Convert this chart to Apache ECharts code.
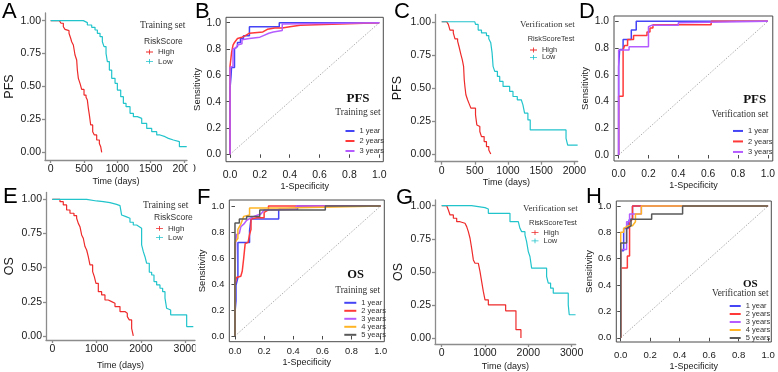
<!DOCTYPE html>
<html>
<head>
<meta charset="utf-8">
<style>
  html, body { margin: 0; padding: 0; background: #fff; }
  #chart { width: 778px; height: 372px; }
</style>
<script src="https://cdn.jsdelivr.net/npm/echarts@6/dist/echarts.min.js"></script>
</head>
<body>
<div id="chart"></div>
<script>
// tick labels
const survTicks = [0, 0.25, 0.5, 0.75, 1];
const pfsDayTicks = [0, 500, 1000, 1500, 2000];
const osDayTicks = [0, 1000, 2000, 3000];
const rocTicks = [0, 0.2, 0.4, 0.6, 0.8, 1];

const groupNames = ['High', 'Low'];
const rocNames = ['1 year', '2 years', '3 years', '4 years', '5 years'];

// Kaplan-Meier curves: [days, survival]
const pfsTrainHigh = [[0,1],[130,1],[155,0.98],[190,0.954],[215,0.934],[240,0.924],[275,0.904],[300,0.866],[315,0.84],[340,0.815],[365,0.739],[390,0.701],[400,0.625],[415,0.562],[440,0.524],[465,0.478],[500,0.435],[530,0.418],[550,0.397],[565,0.334],[580,0.284],[600,0.208],[630,0.157],[655,0.132],[690,0.094],[730,0.068],[750,0.043],[765,0]];
const pfsTrainLow = [[0,1],[440,1],[490,0.985],[550,0.967],[615,0.949],[665,0.929],[700,0.904],[740,0.878],[775,0.84],[800,0.803],[830,0.752],[850,0.689],[880,0.625],[915,0.562],[965,0.524],[1000,0.473],[1050,0.423],[1090,0.372],[1130,0.347],[1190,0.296],[1240,0.271],[1300,0.258],[1365,0.22],[1440,0.182],[1515,0.157],[1590,0.132],[1640,0.119],[1715,0.106],[1765,0.094],[1840,0.081],[1930,0.043],[2040,0.043]];
const pfsTestHigh = [[0,1],[75,1],[100,0.98],[125,0.937],[175,0.916],[200,0.871],[240,0.853],[260,0.815],[290,0.752],[310,0.714],[330,0.663],[340,0.562],[350,0.511],[365,0.448],[390,0.41],[410,0.385],[440,0.347],[510,0.296],[530,0.22],[550,0.208],[575,0.17],[600,0.132],[640,0.094],[675,0.056],[710,0.03],[740,0]];
const pfsTestLow = [[0,1],[500,1],[510,0.98],[550,0.937],[600,0.916],[675,0.896],[710,0.871],[740,0.841],[760,0.765],[775,0.663],[800,0.625],[840,0.587],[875,0.549],[925,0.511],[1025,0.473],[1075,0.435],[1140,0.41],[1200,0.397],[1225,0.372],[1250,0.309],[1300,0.258],[1335,0.182],[1875,0.119],[1900,0.068],[2050,0.068]];
const osTrainHigh = [[0,1],[98,1],[173,0.983],[248,0.959],[323,0.922],[399,0.898],[489,0.88],[549,0.861],[587,0.824],[624,0.8],[662,0.739],[699,0.715],[737,0.654],[775,0.629],[812,0.58],[850,0.52],[910,0.471],[948,0.434],[985,0.385],[1038,0.324],[1113,0.3],[1188,0.263],[1263,0.251],[1339,0.239],[1414,0.215],[1527,0.178],[1639,0.166],[1692,0.141],[1737,0.117],[1790,0.056],[1827,0]];
const osTrainLow = [[0,1],[624,1],[775,0.988],[1000,0.983],[1151,0.976],[1301,0.963],[1451,0.954],[1527,0.946],[1564,0.885],[1602,0.873],[1662,0.861],[1752,0.832],[1827,0.812],[1903,0.8],[1963,0.788],[2015,0.666],[2053,0.617],[2091,0.58],[2128,0.532],[2188,0.466],[2241,0.446],[2294,0.398],[2354,0.373],[2429,0.349],[2489,0.324],[2542,0.276],[2579,0.202],[2617,0.19],[2670,0.154],[3031,0.068],[3181,0.068]];
const osTestHigh = [[0,1],[115,1],[154,0.967],[192,0.93],[269,0.905],[346,0.879],[423,0.867],[538,0.859],[577,0.842],[615,0.804],[654,0.754],[692,0.678],[731,0.59],[769,0.565],[846,0.558],[884,0.503],[923,0.427],[961,0.352],[1000,0.289],[1077,0.251],[1477,0.206],[1715,0.063],[1830,0]];
const osTestLow = [[0,1],[690,1],[707,0.985],[1000,0.975],[1077,0.942],[1577,0.879],[1769,0.867],[1807,0.829],[1846,0.804],[1923,0.779],[1961,0.729],[2000,0.653],[2038,0.616],[2077,0.528],[2423,0.465],[2461,0.415],[2515,0.377],[2577,0.339],[2923,0.251],[2946,0.176],[3092,0.176]];

// ROC curves: [1-specificity, sensitivity]
const rocPfsTrain1 = [[0,0],[0,0.5],[0.007,0.6],[0.01,0.66],[0.03,0.66],[0.03,0.8],[0.05,0.82],[0.05,0.85],[0.07,0.85],[0.07,0.88],[0.09,0.88],[0.09,0.9],[0.13,0.9],[0.13,0.97],[0.33,0.97],[0.33,1],[1,1]];
const rocPfsTrain2 = [[0,0],[0,0.67],[0.01,0.67],[0.01,0.77],[0.02,0.77],[0.02,0.83],[0.03,0.85],[0.05,0.88],[0.08,0.89],[0.1,0.9],[0.13,0.92],[0.22,0.93],[0.25,0.95],[0.3,0.96],[0.35,0.96],[0.4,0.97],[0.47,0.98],[0.47,0.99],[1,1]];
const rocPfsTrain3 = [[0,0],[0,0.66],[0.01,0.67],[0.02,0.67],[0.02,0.8],[0.04,0.81],[0.05,0.83],[0.08,0.84],[0.08,0.87],[0.13,0.88],[0.2,0.89],[0.22,0.9],[0.26,0.92],[0.29,0.93],[0.35,0.94],[0.35,0.99],[1,1]];
const rocPfsTest1 = [[0,0],[0,0.66],[0.007,0.66],[0.007,0.79],[0.03,0.79],[0.03,0.865],[0.085,0.865],[0.085,0.935],[0.118,0.935],[0.118,1],[1,1]];
const rocPfsTest2 = [[0,0],[0,0.44],[0.03,0.44],[0.03,0.785],[0.04,0.785],[0.04,0.82],[0.06,0.82],[0.06,0.865],[0.1,0.865],[0.1,0.895],[0.19,0.895],[0.19,0.92],[0.21,0.92],[0.21,0.95],[0.23,0.95],[0.23,0.975],[0.62,0.975],[0.62,1],[1,1]];
const rocPfsTest3 = [[0,0],[0,0.785],[0.07,0.785],[0.07,0.81],[0.2,0.81],[0.2,0.96],[0.22,0.97],[0.4,0.97],[0.4,0.99],[1,1]];
const rocOsTrain1 = [[0,0],[0,0.18],[0.007,0.27],[0.007,0.39],[0.02,0.45],[0.02,0.72],[0.1,0.72],[0.1,0.81],[0.11,0.9],[0.3,0.9],[0.3,0.975],[0.43,0.975],[0.43,1],[1,1]];
const rocOsTrain2 = [[0,0],[0,0.39],[0.01,0.45],[0.04,0.46],[0.05,0.5],[0.06,0.6],[0.07,0.71],[0.09,0.72],[0.1,0.78],[0.11,0.82],[0.11,0.9],[0.15,0.91],[0.2,0.91],[0.2,0.95],[0.23,0.97],[0.23,1],[1,1]];
const rocOsTrain3 = [[0,0],[0,0.45],[0.005,0.72],[0.01,0.78],[0.03,0.79],[0.04,0.84],[0.06,0.86],[0.08,0.89],[0.13,0.92],[0.18,0.94],[0.2,0.97],[0.42,0.975],[0.42,1],[1,1]];
const rocOsTrain4 = [[0,0],[0,0.72],[0.02,0.75],[0.02,0.82],[0.04,0.86],[0.06,0.92],[0.1,0.93],[0.1,0.985],[0.35,0.985],[0.35,1],[1,1]];
const rocOsTrain5 = [[0,0],[0,0.87],[0.03,0.87],[0.03,0.9],[0.08,0.9],[0.08,0.92],[0.17,0.92],[0.17,0.97],[0.62,0.97],[0.62,1],[1,1]];
const rocOsTest1 = [[0,0],[0,0.66],[0.02,0.66],[0.02,0.83],[0.05,0.83],[0.05,0.87],[0.06,0.9],[0.08,0.9],[0.08,1],[1,1]];
const rocOsTest2 = [[0,0],[0,0.53],[0.045,0.53],[0.045,0.62],[0.06,0.62],[0.06,0.88],[0.08,0.9],[0.08,1],[1,1]];
const rocOsTest3 = [[0,0],[0,0.67],[0.04,0.67],[0.04,0.88],[0.06,0.88],[0.06,0.94],[0.14,0.94],[0.14,1],[1,1]];
const rocOsTest4 = [[0,0],[0,0.8],[0.02,0.8],[0.02,0.83],[0.05,0.85],[0.08,0.85],[0.1,0.88],[0.1,0.94],[0.14,0.94],[0.14,1],[1,1]];
const rocOsTest5 = [[0,0],[0,0.72],[0.04,0.72],[0.04,0.83],[0.07,0.85],[0.07,0.9],[0.21,0.9],[0.21,0.94],[0.42,0.94],[0.42,1],[1,1]];
const diagonal = [[0,0],[1,1]];

const kmColors = ['#ee2a2a', '#22c4cc'];
const rocColors = ['#4545f5', '#ff3838', '#b45cff', '#ffb425', '#595959'];
const SANS = '"Liberation Sans", Arial, sans-serif';
const SERIF = '"Liberation Serif", "Times New Roman", serif';

const kmPanels = [
  { curves: [pfsTrainHigh, pfsTrainLow], box: [45, 13, 142, 147], x: [-85, 2044], y: [-0.058, 1.058], ticks: pfsDayTicks, yName: 'PFS', xGap: 17, yGap: 28.5 },
  { curves: [pfsTestHigh, pfsTestLow], box: [435, 14.5, 142.7, 147.2], x: [-101, 2051], y: [-0.058, 1.055], ticks: pfsDayTicks, yName: 'PFS', xGap: 9, yGap: 30.5 },
  { curves: [osTrainHigh, osTrainLow], box: [46, 192.5, 149, 147.5], x: [-142, 3219], y: [-0.03, 1.05], ticks: osDayTicks, yName: 'OS', xGap: 21.5, yGap: 29.5 },
  { curves: [osTestHigh, osTestLow], box: [435, 200, 140.7, 144.3], x: [-155, 3095], y: [-0.045, 1.043], ticks: osDayTicks, yName: 'OS', xGap: 18, yGap: 29.5 }
];

const rocPanels = [
  { curves: [rocPfsTrain1, rocPfsTrain2, rocPfsTrain3], box: [226, 17.3, 157.3, 144.4], x: [-0.027, 1.027], y: [-0.056, 1.041], font: 10.5, labelGap: 8, xGap: 19, yGap: 20 },
  { curves: [rocPfsTest1, rocPfsTest2, rocPfsTest3], box: [614, 16, 159, 145], x: [-0.031, 1.033], y: [-0.045, 1.04], font: 10.3, labelGap: 8.5, xGap: 20, yGap: 22.5 },
  { curves: [rocOsTrain1, rocOsTrain2, rocOsTrain3, rocOsTrain4, rocOsTrain5], box: [229.3, 200, 155, 141.7], x: [-0.039, 1.025], y: [-0.044, 1.046], font: 9.3, labelGap: 5, xGap: 16.5, yGap: 20.5 },
  { curves: [rocOsTest1, rocOsTest2, rocOsTest3, rocOsTest4, rocOsTest5], box: [616.3, 201, 155, 142.3], x: [-0.03, 1.022], y: [-0.032, 1.038], font: 9.6, labelGap: 8, xGap: 20, yGap: 22 }
];

const grid = [], xAxis = [], yAxis = [], series = [];

kmPanels.forEach(p => {
  const i = grid.length;
  const axisGrey = { color: '#8c8c8c', width: 1.3 };
  grid.push({ left: p.box[0], top: p.box[1], width: p.box[2], height: p.box[3] });
  xAxis.push({
    gridIndex: i, type: 'value', min: p.x[0], max: p.x[1],
    axisLine: { show: true, onZero: false, lineStyle: axisGrey },
    axisTick: { show: true, length: 3, customValues: p.ticks, lineStyle: axisGrey },
    axisLabel: { customValues: p.ticks, formatter: v => String(v), fontSize: 10.5, fontFamily: SANS, color: '#1a1a1a', margin: 4 },
    splitLine: { show: false },
    name: 'Time (days)', nameLocation: 'middle', nameGap: p.xGap,
    nameTextStyle: { fontSize: 9, fontFamily: SANS, color: '#1a1a1a' }
  });
  yAxis.push({
    gridIndex: i, type: 'value', min: p.y[0], max: p.y[1],
    axisLine: { show: true, onZero: false, lineStyle: axisGrey },
    axisTick: { show: true, length: 3, customValues: survTicks, lineStyle: axisGrey },
    axisLabel: { customValues: survTicks, formatter: v => v.toFixed(2), fontSize: 10.5, fontFamily: SANS, color: '#1a1a1a', margin: 4 },
    splitLine: { show: false },
    name: p.yName, nameLocation: 'middle', nameGap: p.yGap,
    nameTextStyle: { fontSize: 12.5, fontFamily: SANS, color: '#1a1a1a' }
  });
  p.curves.forEach((c, k) => {
    series.push({
      type: 'line', name: groupNames[k], xAxisIndex: i, yAxisIndex: i, data: c,
      step: 'end', symbol: 'none', silent: true,
      lineStyle: { color: kmColors[k], width: 1.2 }, itemStyle: { color: kmColors[k] }
    });
  });
});

rocPanels.forEach(p => {
  const i = grid.length;
  const dark = { color: '#4a4a4a', width: 1 };
  grid.push({ left: p.box[0], top: p.box[1], width: p.box[2], height: p.box[3], show: true, borderColor: '#4a4a4a', borderWidth: 1, backgroundColor: 'transparent' });
  xAxis.push({
    gridIndex: i, type: 'value', min: p.x[0], max: p.x[1],
    axisLine: { show: false },
    axisTick: { show: true, length: 3.5, customValues: rocTicks, lineStyle: dark },
    axisLabel: { customValues: rocTicks, formatter: v => v.toFixed(1), fontSize: p.font, fontFamily: SANS, color: '#1a1a1a', margin: p.labelGap },
    splitLine: { show: false },
    name: '1-Specificity', nameLocation: 'middle', nameGap: p.xGap,
    nameTextStyle: { fontSize: 9, fontFamily: SANS, color: '#1a1a1a' }
  });
  yAxis.push({
    gridIndex: i, type: 'value', min: p.y[0], max: p.y[1],
    axisLine: { show: false },
    axisTick: { show: true, length: 3.5, customValues: rocTicks, lineStyle: dark },
    axisLabel: { customValues: rocTicks, formatter: v => v.toFixed(1), fontSize: p.font, fontFamily: SANS, color: '#1a1a1a', margin: 5 },
    splitLine: { show: false },
    name: 'Sensitivity', nameLocation: 'middle', nameGap: p.yGap,
    nameTextStyle: { fontSize: 9.5, fontFamily: SANS, color: '#1a1a1a' }
  });
  series.push({
    type: 'line', name: 'ref', xAxisIndex: i, yAxisIndex: i, data: diagonal,
    symbol: 'none', silent: true, lineStyle: { color: '#9a9a9a', width: 0.8, type: [1.5, 1.5] }
  });
  p.curves.forEach((c, k) => {
    series.push({
      type: 'line', name: rocNames[k], xAxisIndex: i, yAxisIndex: i, data: c,
      symbol: 'none', silent: true,
      lineStyle: { color: rocColors[k], width: 1.5 }, itemStyle: { color: rocColors[k] }
    });
  });
});

const kmIcon = 'path://M0,3.4h10v1.2h-10z M4.4,0.6h1.2v6.8h-1.2z';
function kmLegend(left, top, pitch, size) {
  return {
    orient: 'vertical', left: left, top: top, padding: 0, itemGap: 0,
    itemWidth: 7, itemHeight: 6, selectedMode: false,
    data: groupNames.map(n => ({ name: n, icon: kmIcon })),
    textStyle: { fontSize: size, fontFamily: SANS, color: '#333', lineHeight: pitch }
  };
}
function rocLegend(left, top, pitch, count, width) {
  return {
    orient: 'vertical', left: left, top: top, padding: 0, itemGap: 0,
    itemWidth: width, itemHeight: 2, icon: 'rect', selectedMode: false,
    data: rocNames.slice(0, count),
    textStyle: { fontSize: 7.5, fontFamily: SANS, color: '#333', lineHeight: pitch }
  };
}

const legend = [
  kmLegend(146, 47.3, 9.4, 8),
  kmLegend(530, 46.3, 7.4, 7.3),
  kmLegend(156, 223.6, 9.4, 8),
  kmLegend(531.5, 228.5, 8.3, 7.5),
  rocLegend(345.5, 126, 10, 3, 9),
  rocLegend(733, 125.7, 10.5, 3, 10),
  rocLegend(344.3, 298.8, 7.8, 5, 12),
  rocLegend(729.7, 302, 7.9, 5, 11)
];

function txt(x, y, text, font, align, fill) {
  return { type: 'text', x: x, y: y, z: 10, silent: true,
    style: { text: text, font: font, fill: fill || '#333', align: align || 'left', verticalAlign: 'middle' } };
}
const letterFont = '22px ' + SANS;
const graphic = [
  txt(2, 12, 'A', letterFont, 'left', '#000'),
  txt(195, 12, 'B', letterFont, 'left', '#000'),
  txt(394, 12, 'C', letterFont, 'left', '#000'),
  txt(579, 12, 'D', letterFont, 'left', '#000'),
  txt(3, 197, 'E', letterFont, 'left', '#000'),
  txt(197, 198, 'F', letterFont, 'left', '#000'),
  txt(396, 198, 'G', letterFont, 'left', '#000'),
  txt(586, 197, 'H', letterFont, 'left', '#000'),
  // survival legends
  txt(140, 25, 'Training set', '9.5px ' + SERIF),
  txt(144, 42, 'RiskScore', '8.5px ' + SANS),
  txt(520, 24.3, 'Verification set', '9px ' + SERIF),
  txt(527.7, 39.3, 'RiskScoreTest', '7.3px ' + SANS),
  txt(143, 205.7, 'Training set', '9.5px ' + SERIF),
  txt(154, 217.3, 'RiskScore', '8.5px ' + SANS),
  txt(523, 208.3, 'Verification set', '9px ' + SERIF),
  txt(529, 222.7, 'RiskScoreTest', '7.5px ' + SANS),
  // ROC legends
  txt(358, 99, 'PFS', 'bold 13px ' + SERIF, 'center', '#111'),
  txt(358, 112, 'Training set', '9.5px ' + SERIF, 'center'),
  txt(754.7, 100, 'PFS', 'bold 13px ' + SERIF, 'center', '#111'),
  txt(740, 115, 'Verification set', '9.3px ' + SERIF, 'center'),
  txt(355.7, 275, 'OS', 'bold 12.5px ' + SERIF, 'center', '#111'),
  txt(357.7, 291, 'Training set', '9.4px ' + SERIF, 'center'),
  txt(750.3, 284, 'OS', 'bold 11px ' + SERIF, 'center', '#111'),
  txt(740.3, 294, 'Verification set', '9.3px ' + SERIF, 'center'),
  // the source panels were cropped through the last tick label
  { type: 'rect', z: 20, silent: true, shape: { x: 187.5, y: 161, width: 6, height: 16 }, style: { fill: '#fff' } },
  { type: 'rect', z: 20, silent: true, shape: { x: 195.5, y: 341, width: 4, height: 16 }, style: { fill: '#fff' } }
];

const chart = echarts.init(document.getElementById('chart'));
chart.setOption({
  animation: false,
  backgroundColor: '#fff',
  grid: grid,
  xAxis: xAxis,
  yAxis: yAxis,
  legend: legend,
  graphic: graphic,
  series: series
});
</script>
</body>
</html>
